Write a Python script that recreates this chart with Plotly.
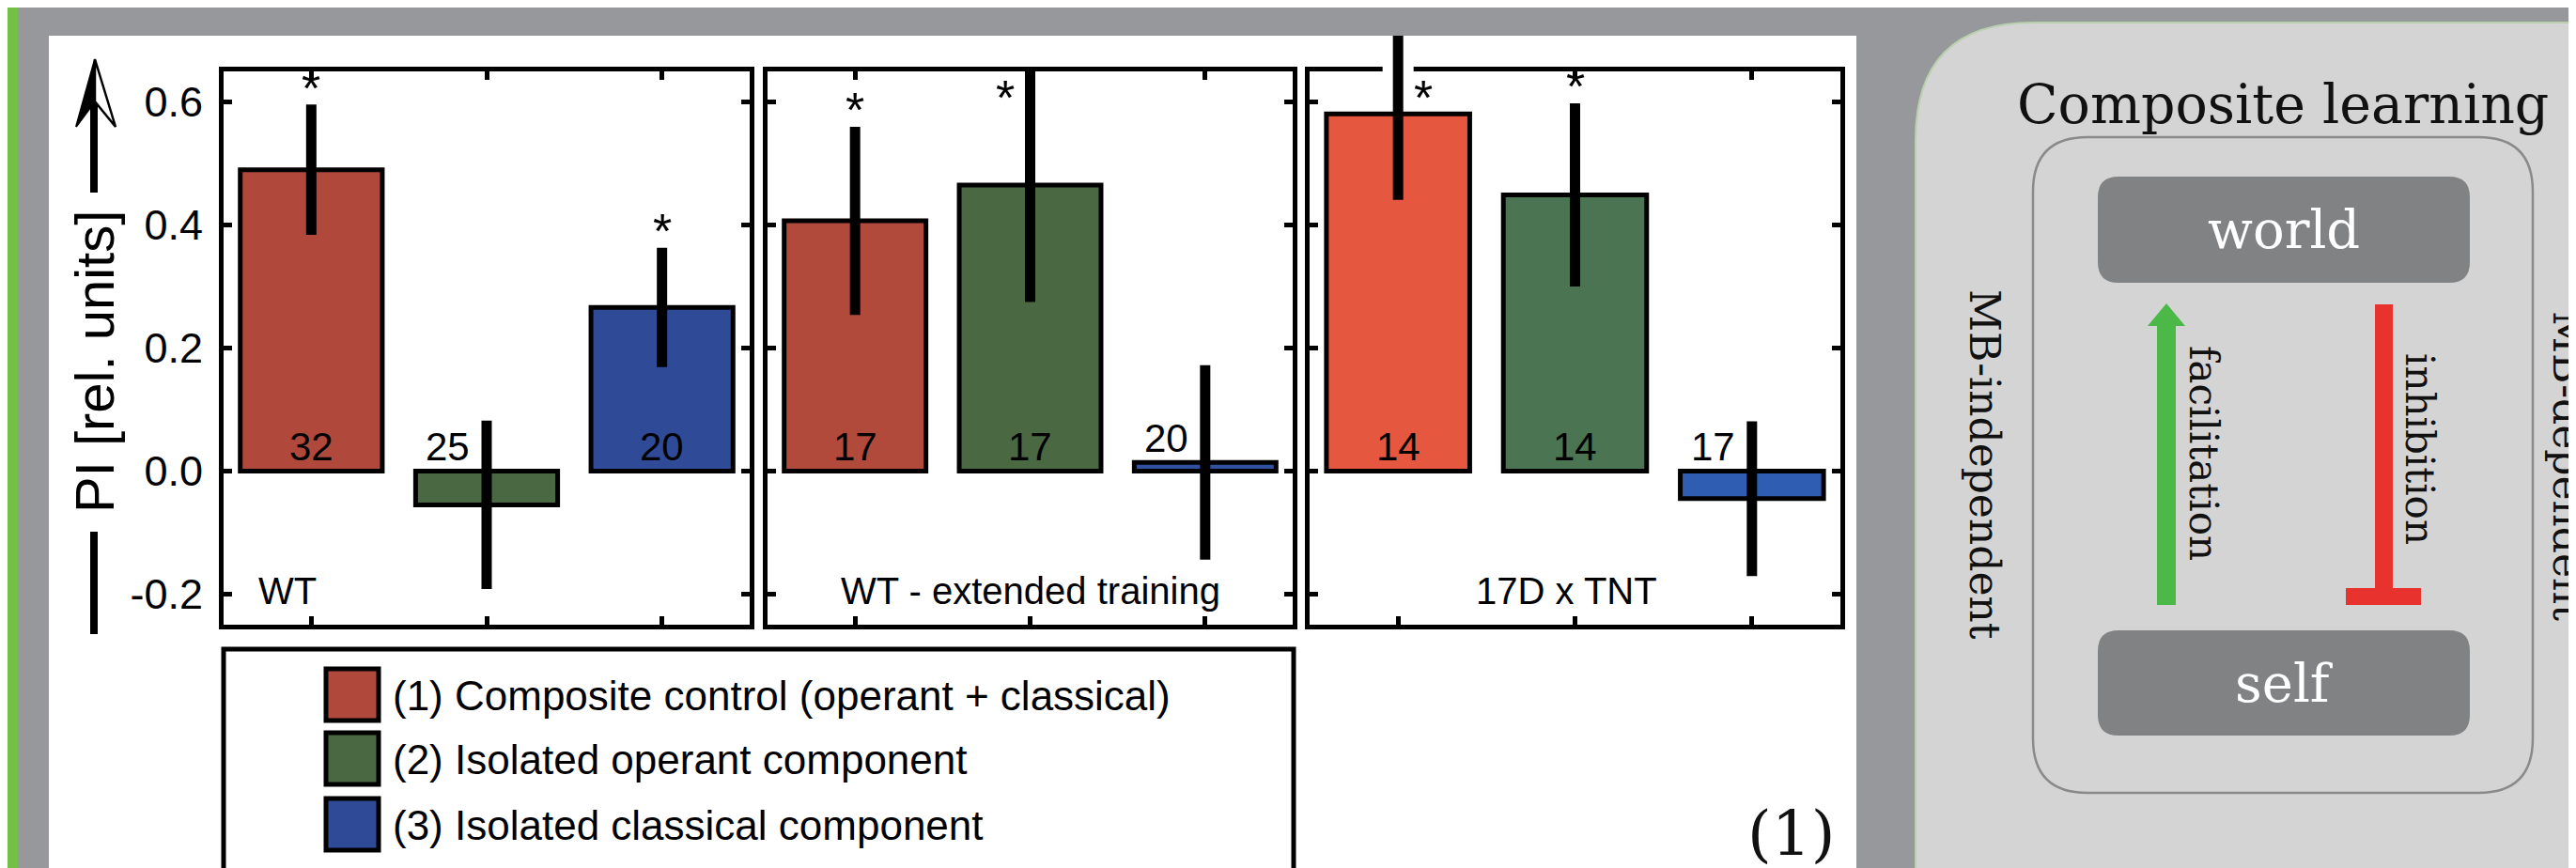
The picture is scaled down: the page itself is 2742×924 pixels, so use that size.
import plotly.graph_objects as go

W, H = 2742, 924

# ---------------- data ----------------
groups = ["WT", "WT - extended training", "17D x TNT"]
series = ["(1) Composite control (operant + classical)",
          "(2) Isolated operant component",
          "(3) Isolated classical component"]
pi_wt = [0.490, -0.055, 0.266]
sem_wt = [0.106, 0.137, 0.097]
n_wt = [32, 25, 20]
sig_wt = [True, False, True]

pi_ext = [0.407, 0.465, 0.014]
sem_ext = [0.153, 0.190, 0.158]
n_ext = [17, 17, 20]
sig_ext = [True, True, False]

pi_tnt = [0.581, 0.449, -0.045]
sem_tnt = [0.140, 0.149, 0.126]
n_tnt = [14, 14, 17]
sig_tnt = [True, True, False]

y_ticks = [-0.2, 0.0, 0.2, 0.4, 0.6]
y_tick_labels = ["-0.2", "0.0", "0.2", "0.4", "0.6"]
y_title = "PI [rel. units]"

diagram_title = "Composite learning"
node_top, node_bottom = "world", "self"
arrow_up_label, arrow_down_label = "facilitation", "inhibition"
side_left, side_right = "MB-independent", "MB-dependent"
panel_tag = "(1)"

# ---------------- style ----------------
SANS = "Liberation Sans, Arial, sans-serif"
SERIF = "DejaVu Serif, serif"
panel_colors = [["#b0493b", "#4a6842", "#2f4b97"],
                ["#b24a3c", "#4a6842", "#3050a0"],
                ["#e5573f", "#4b7552", "#2e5db2"]]
legend_colors = ["#b0493b", "#4a6842", "#2f4b97"]
PANEL_X = [(230, 790), (809, 1368), (1386, 1951)]
PY0, PY1 = 68, 657          # top / bottom of the plot boxes (px)
Y_RANGE = [-0.25, 0.65]
STAR_SIDE = [0, -1, 1]      # where a star goes when the error bar hits the top
label_anchor = ["left", "center", "center"]
label_dx = [35, 0, -9]


def px(x):
    return x / W


def py(y):
    return 1 - y / H


def rr_path(x0, y0, x1, y1, r):
    return " ".join([
        f"M{px(x0 + r)},{py(y0)}",
        f"L{px(x1 - r)},{py(y0)}",
        f"Q{px(x1)},{py(y0)} {px(x1)},{py(y0 + r)}",
        f"L{px(x1)},{py(y1 - r)}",
        f"Q{px(x1)},{py(y1)} {px(x1 - r)},{py(y1)}",
        f"L{px(x0 + r)},{py(y1)}",
        f"Q{px(x0)},{py(y1)} {px(x0)},{py(y1 - r)}",
        f"L{px(x0)},{py(y0 + r)}",
        f"Q{px(x0)},{py(y0)} {px(x0 + r)},{py(y0)}",
        "Z"])


def poly(points):
    return "M" + " L".join(f"{px(a)},{py(b)}" for a, b in points) + " Z"


fig = go.Figure()

means = [pi_wt, pi_ext, pi_tnt]
sems = [sem_wt, sem_ext, sem_tnt]
ns = [n_wt, n_ext, n_tnt]
sigs = [sig_wt, sig_ext, sig_tnt]
cats = [1, 2, 3]

units_per_px = (Y_RANGE[1] - Y_RANGE[0]) / (PY1 - PY0)
Y4_TOP_PX = 30
y4_range = [Y_RANGE[0], Y_RANGE[1] + (PY0 - Y4_TOP_PX) * units_per_px]

layout_axes = {}
annotations = []
for i in range(3):
    sfx = "" if i == 0 else str(i + 1)
    fig.add_trace(go.Bar(
        x=cats, y=means[i], width=0.81,
        marker=dict(color=panel_colors[i], line=dict(color="black", width=5)),
        xaxis="x" + sfx, yaxis="y" + sfx, showlegend=False, hoverinfo="skip"))
    xa, xb = PANEL_X[i]
    layout_axes["xaxis" + sfx] = dict(
        domain=[px(xa), px(xb)], range=[0.5, 3.5], tickvals=cats,
        showticklabels=False, ticks="inside", ticklen=9, tickwidth=5,
        tickcolor="black", showline=True, linewidth=5, linecolor="black",
        mirror="ticks", showgrid=False, zeroline=False, anchor="y" + sfx,
        fixedrange=True)
    layout_axes["yaxis" + sfx] = dict(
        domain=[py(PY1), py(PY0)], range=Y_RANGE, tickvals=y_ticks,
        ticktext=y_tick_labels, showticklabels=(i == 0),
        ticks="inside", ticklen=9, tickwidth=5, tickcolor="black",
        showline=True, linewidth=5, linecolor="black", mirror="ticks",
        showgrid=False, zeroline=False, anchor="x" + sfx, fixedrange=True,
        tickfont=dict(family=SANS, size=45, color="black"),
        ticklabelstandoff=8)

# error bars on an extended overlay axis (same scale, taller domain)
for i in range(3):
    sfx = "" if i == 0 else str(i + 1)
    hx, hy = [], []
    for j in range(3):
        top = means[i][j] + sems[i][j]
        if top > Y_RANGE[1] + 0.02:
            hx += [cats[j], cats[j], None]
            hy += [Y_RANGE[1] - 0.012, Y_RANGE[1] + 0.012, None]
    if hx:
        fig.add_trace(go.Scatter(x=hx, y=hy, mode="lines",
                                 line=dict(color="white", width=33),
                                 xaxis="x" + sfx, yaxis="y4",
                                 showlegend=False, hoverinfo="skip"))
    ex, ey = [], []
    for j in range(3):
        ex += [cats[j], cats[j], None]
        ey += [means[i][j] - sems[i][j], means[i][j] + sems[i][j], None]
    fig.add_trace(go.Scatter(x=ex, y=ey, mode="lines",
                             line=dict(color="black", width=11),
                             xaxis="x" + sfx, yaxis="y4",
                             showlegend=False, hoverinfo="skip"))

layout_axes["yaxis4"] = dict(domain=[py(PY1), py(Y4_TOP_PX)], range=y4_range,
                             visible=False, anchor="x", fixedrange=True)

# count labels, stars, group labels
for i in range(3):
    sfx = "" if i == 0 else str(i + 1)
    for j in range(3):
        v = means[i][j]
        small = abs(v) < 0.1
        annotations.append(dict(
            x=cats[j] + (-0.22 if small else 0), y=max(v, 0) if small else 0,
            xref="x" + sfx, yref="y" + sfx, text=str(ns[i][j]),
            showarrow=False, yanchor="bottom", xanchor="center",
            font=dict(family=SANS, size=42, color="black")))
        if sigs[i][j]:
            top = v + sems[i][j]
            if top + 0.03 > Y_RANGE[1] - 0.01:
                sy = 0.61
                sx = cats[j] + 0.14 * STAR_SIDE[i]
            else:
                sy = top + 0.03
                sx = cats[j]
            annotations.append(dict(
                x=sx, y=sy, xref="x" + sfx, yref="y" + sfx, text="*",
                showarrow=False, yanchor="middle", xanchor="center", yshift=-2,
                font=dict(family=SANS, size=52, color="black")))
    xa, xb = PANEL_X[i]
    annotations.append(dict(
        x=px(xa + label_dx[i]) if label_anchor[i] == "left"
        else px((xa + xb) / 2 + label_dx[i]),
        y=py(621), xref="paper", yref="paper", text=groups[i],
        showarrow=False, xanchor=label_anchor[i], yanchor="middle",
        font=dict(family=SANS, size=40, color="black")))

# y-axis title
annotations.append(dict(x=px(93), y=py(377), xref="paper", yref="paper",
                        text=y_title, textangle=-90, showarrow=False,
                        xanchor="center", yanchor="middle",
                        font=dict(family=SANS, size=58, color="black")))

# legend (drawn by hand so the swatches can be large)
LEG_CY = [732, 800, 870]
shapes = []
for k in range(3):
    annotations.append(dict(x=px(408), y=py(LEG_CY[k]), xref="paper",
                            yref="paper", text=series[k], showarrow=False,
                            xanchor="left", yanchor="middle",
                            font=dict(family=SANS, size=44, color="black")))

# diagram texts
diag = [
    dict(x=px(2422), y=py(103), text=diagram_title,
         font=dict(family=SERIF, size=57, color="#111111")),
    dict(x=px(2423), y=py(236), text=node_top,
         font=dict(family=SERIF, size=56, color="white")),
    dict(x=px(2423), y=py(719), text=node_bottom,
         font=dict(family=SERIF, size=56, color="white")),
    dict(x=px(2338), y=py(474), text=arrow_up_label, textangle=90,
         font=dict(family=SERIF, size=42, color="#111111")),
    dict(x=px(2568), y=py(470), text=arrow_down_label, textangle=90,
         font=dict(family=SERIF, size=42, color="#111111")),
    dict(x=px(2105), y=py(486), text=side_left, textangle=90,
         font=dict(family=SERIF, size=44, color="#111111")),
    dict(x=px(2726), y=py(488), text=side_right, textangle=90,
         font=dict(family=SERIF, size=44, color="#111111")),
    dict(x=px(1899), y=py(879), text=panel_tag,
         font=dict(family=SERIF, size=66, color="#111111")),
]
for a in diag:
    a.update(xref="paper", yref="paper", showarrow=False,
             xanchor="center", yanchor="middle")
annotations += diag


# ---------------- shapes ----------------
def rect(x0, y0, x1, y1, fill, layer="below"):
    return dict(type="rect", xref="paper", yref="paper",
                x0=px(x0), x1=px(x1), y0=py(y1), y1=py(y0),
                fillcolor=fill, line=dict(color=fill, width=0), layer=layer)


shapes += [
    rect(0, 0, 11, H, "#74bf45"),
    rect(44, 30, 1968, H + 10, "white"),
    dict(type="path", xref="paper", yref="paper",
         path=rr_path(2031, 16, 2900, 1100, 125),
         fillcolor="#d4d4d4", line=dict(color="#b9cfae", width=2), layer="below"),
    dict(type="path", xref="paper", yref="paper",
         path=rr_path(2156, 138, 2688, 836, 58),
         fillcolor="rgba(0,0,0,0)", line=dict(color="#8a8a8a", width=2.5),
         layer="below"),
    dict(type="path", xref="paper", yref="paper",
         path=rr_path(2225, 180, 2621, 293, 22),
         fillcolor="#808283", line=dict(width=0), layer="below"),
    dict(type="path", xref="paper", yref="paper",
         path=rr_path(2225, 663, 2621, 775, 22),
         fillcolor="#808283", line=dict(width=0), layer="below"),
    # green facilitation arrow
    dict(type="path", xref="paper", yref="paper",
         path=poly([(2288, 636), (2288, 339), (2278, 339), (2298, 315),
                    (2318, 339), (2308, 339), (2308, 636)]),
         fillcolor="#4cb848", line=dict(width=0), layer="below"),
    # red inhibition bar
    dict(type="path", xref="paper", yref="paper",
         path=poly([(2520, 316), (2539, 316), (2539, 618), (2569, 618),
                    (2569, 636), (2489, 636), (2489, 618), (2520, 618)]),
         fillcolor="#e8322e", line=dict(width=0), layer="below"),
    # y title lines and arrow
    dict(type="line", xref="paper", yref="paper", x0=px(92), x1=px(92),
         y0=py(558), y1=py(667), line=dict(color="black", width=8), layer="above"),
    dict(type="line", xref="paper", yref="paper", x0=px(92), x1=px(92),
         y0=py(197), y1=py(98), line=dict(color="black", width=8), layer="above"),
    dict(type="path", xref="paper", yref="paper",
         path=poly([(93, 55), (73, 127), (93, 100)]),
         fillcolor="black", line=dict(color="black", width=2), layer="above"),
    dict(type="path", xref="paper", yref="paper",
         path=poly([(93, 55), (115, 127), (93, 100)]),
         fillcolor="white", line=dict(color="black", width=2.5), layer="above"),
    # legend box
    dict(type="rect", xref="paper", yref="paper", x0=px(230), x1=px(1369),
         y0=py(920), y1=py(683), line=dict(color="black", width=5),
         fillcolor="rgba(0,0,0,0)", layer="above"),
]
for k in range(3):
    shapes.append(dict(type="rect", xref="paper", yref="paper",
                       x0=px(339), x1=px(395), y0=py(LEG_CY[k] + 27),
                       y1=py(LEG_CY[k] - 28), fillcolor=legend_colors[k],
                       line=dict(color="black", width=5), layer="above"))

fig.update_layout(
    width=W, height=H, margin=dict(l=0, r=0, t=0, b=0),
    paper_bgcolor="#97989b", plot_bgcolor="rgba(0,0,0,0)",
    showlegend=False, annotations=annotations, shapes=shapes,
    **layout_axes)

fig.write_html("out.html")
